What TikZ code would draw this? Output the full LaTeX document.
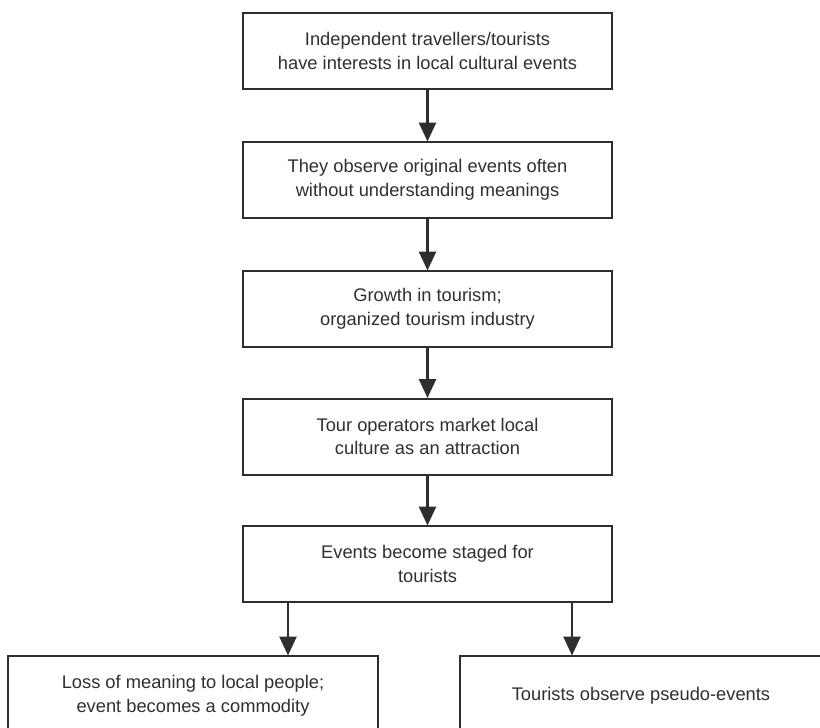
\documentclass[tikz,border=0pt]{standalone}
\usepackage{fontspec}
\setmainfont{Liberation Sans}
\usetikzlibrary{arrows.meta}
\definecolor{ink}{HTML}{2E2E2E}
\definecolor{txt}{HTML}{303030}
\tikzset{
  box/.style={draw=ink, line width=2pt, rectangle, inner sep=0pt,
    minimum width=369pt, minimum height=76pt, align=center, text=txt,
    font=\fontsize{18.3pt}{23.5pt}\selectfont},
  widebox/.style={box, minimum height=80pt},
  arr/.style={draw=ink, line width=2.6pt, -{Triangle[length=19pt,width=17pt]}, shorten >=-0.5pt}
}
\begin{document}
\begin{tikzpicture}[x=1pt,y=-1pt]
\useasboundingbox (0,0) rectangle (820,728);
\clip (0,0) rectangle (820,728);
\fill[white] (0,0) rectangle (820,728);
\node[box] (b1) at (427.5,51) {Independent travellers/tourists\\have interests in local cultural events};
\node[box] (b2) at (427.5,180) {They observe original events often\\without understanding meanings};
\node[box] (b3) at (427.5,309) {Growth in tourism;\\organized tourism industry};
\node[box] (b4) at (427.5,436.5) {Tour operators market local\\culture as an attraction};
\node[box] (b5) at (427.5,564) {Events become staged for\\tourists};
\node[widebox, minimum width=370pt] (l) at (193,696) {Loss of meaning to local people;\\event becomes a commodity};
\node[widebox, minimum width=362pt] (r) at (641,696) {Tourists observe pseudo-events};
\coordinate (xl) at (288,0);
\coordinate (xr) at (572,0);
\draw[arr] (b1) -- (b2);
\draw[arr] (b2) -- (b3);
\draw[arr] (b3) -- (b4);
\draw[arr] (b4) -- (b5);
\draw[arr] (b5.south -| xl) -- (l.north -| xl);
\draw[arr] (b5.south -| xr) -- (r.north -| xr);
\end{tikzpicture}
\end{document}
